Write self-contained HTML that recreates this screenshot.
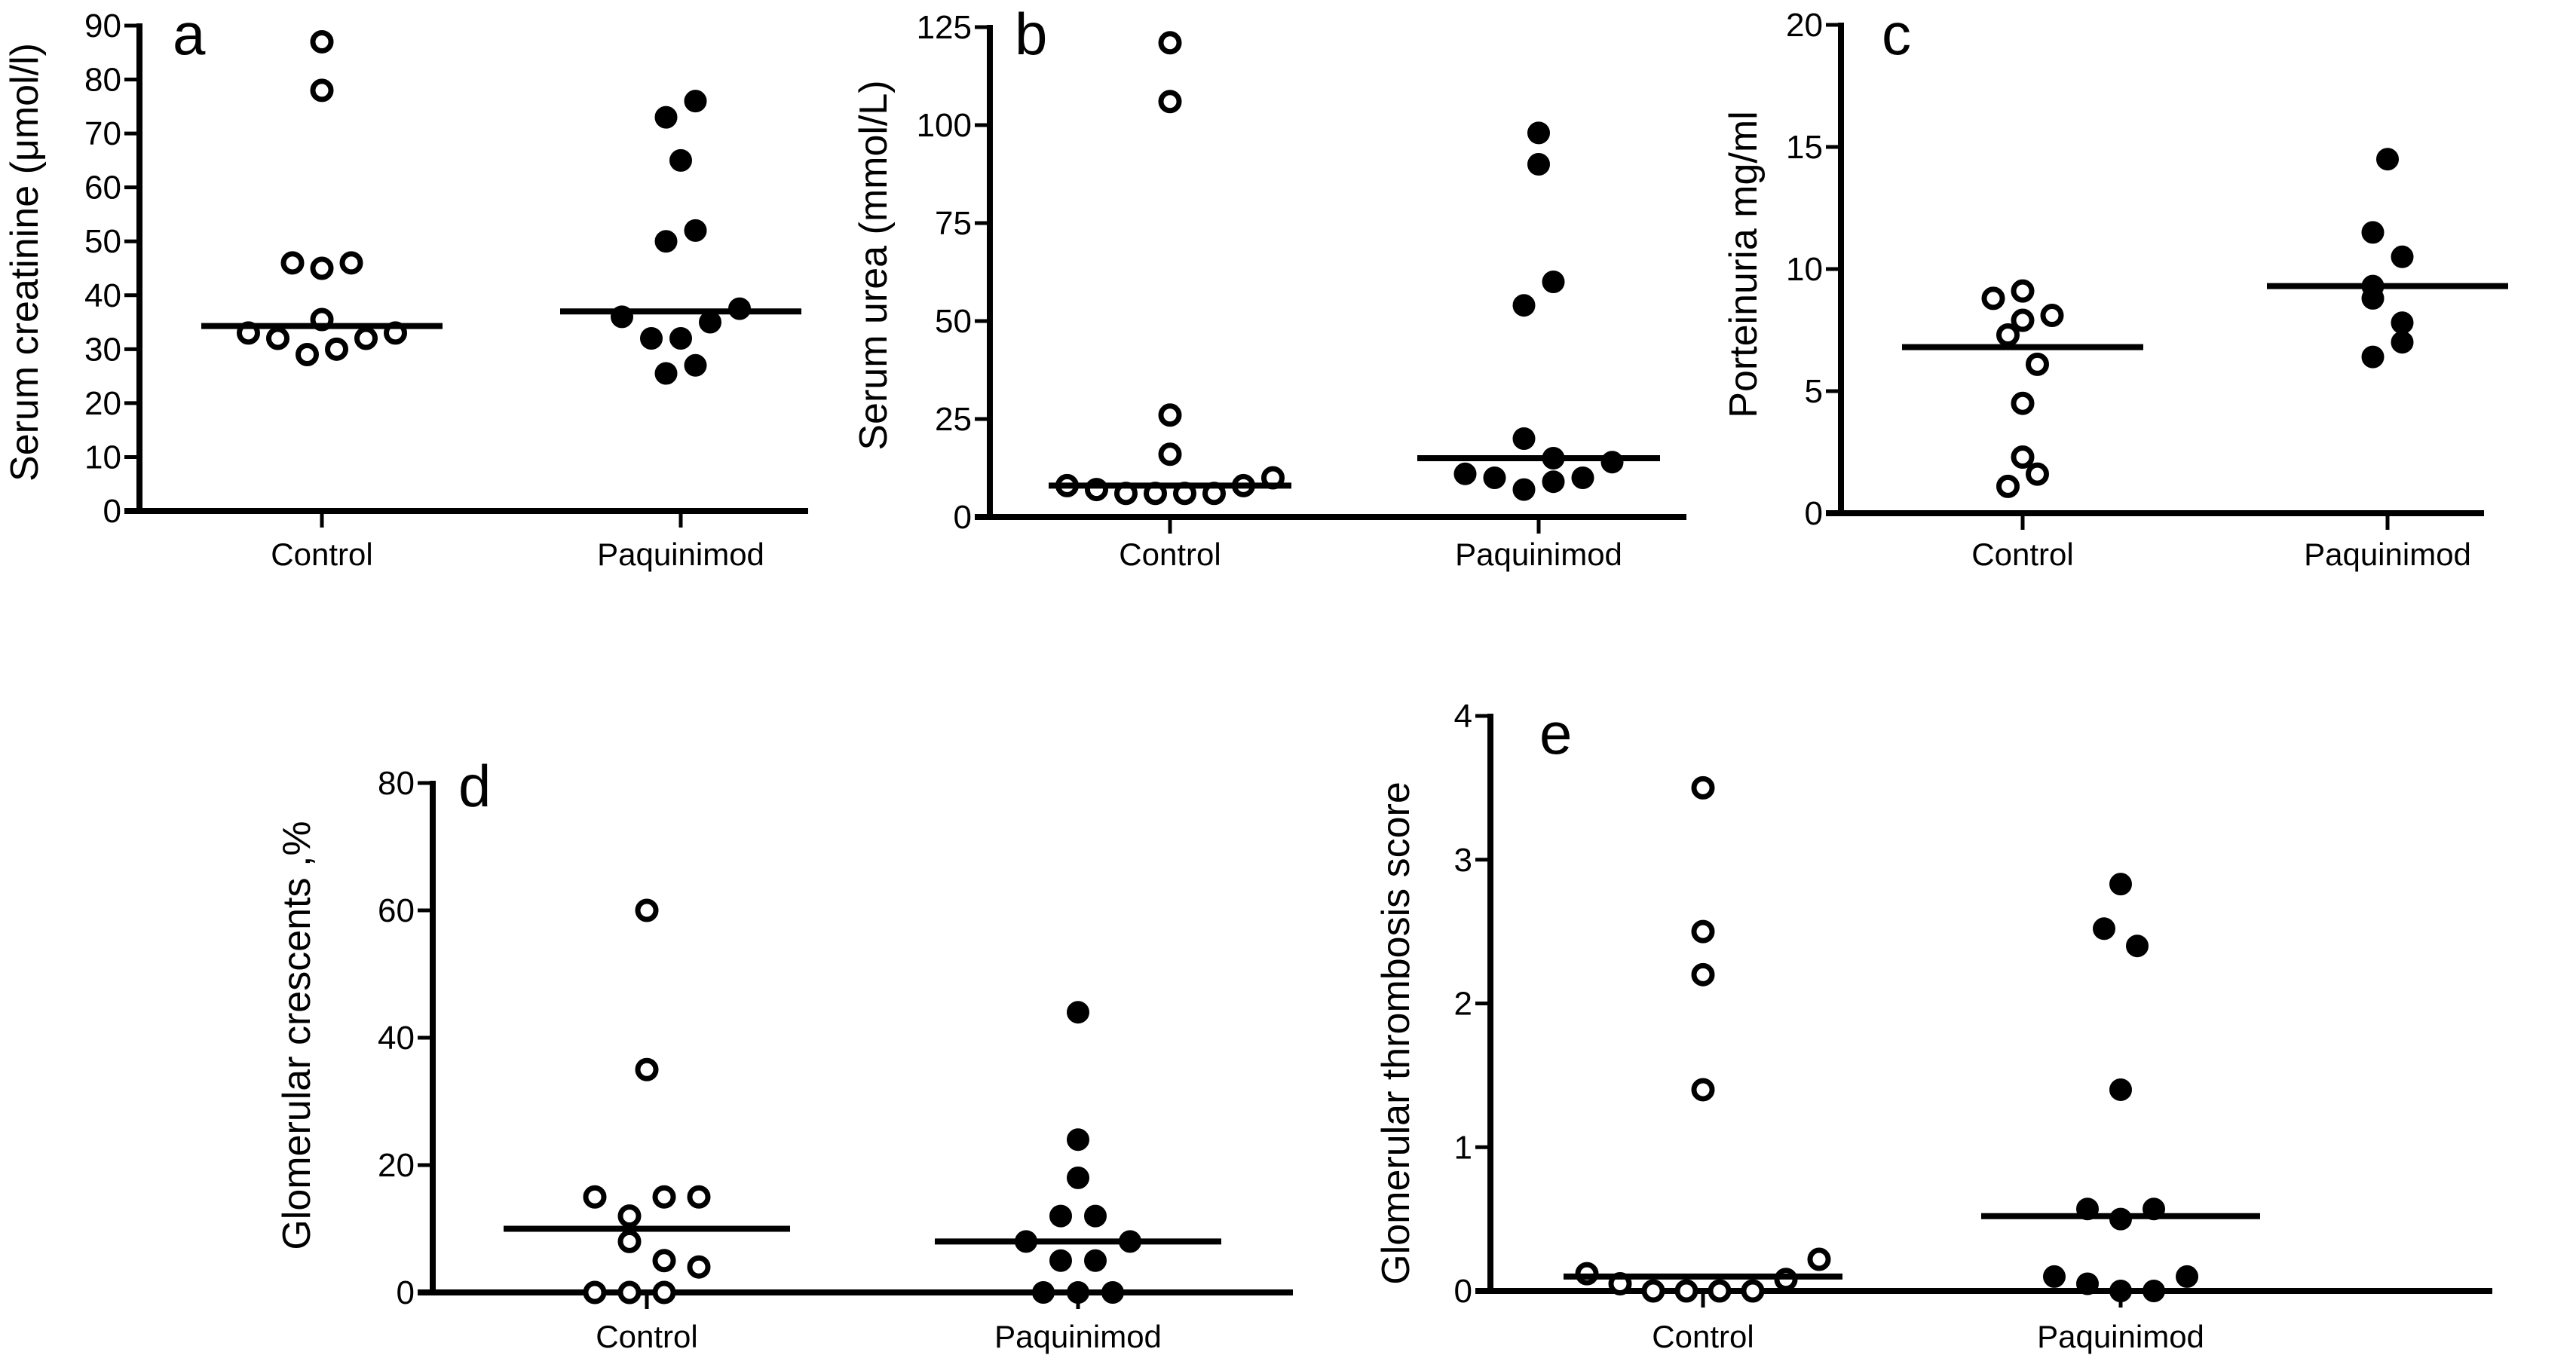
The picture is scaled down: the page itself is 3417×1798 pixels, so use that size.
<!DOCTYPE html>
<html><head><meta charset="utf-8"><style>
html,body{margin:0;padding:0;background:#fff;}
svg{display:block;}
text{font-family:"Liberation Sans",Arial,sans-serif;fill:#000;}
</style></head>
<body>
<svg id="fig" width="3417" height="1798" viewBox="0 0 3417 1798" xmlns="http://www.w3.org/2000/svg"></svg>
<script>
// ---------- data ----------
const categories = ["Control", "Paquinimod"];
const aControl = [87, 78, 46, 45, 46, 35.5, 33, 32, 29, 30, 32, 33];
const aPaq = [76, 73, 65, 50, 52, 36, 35, 37.5, 32, 32, 27, 25.5];
const aMedians = [34.3, 37];
const aTicks = [0, 10, 20, 30, 40, 50, 60, 70, 80, 90];
const aJitC = [0, 0, -1, 0, 1, 0, -2.5, -1.5, -0.5, 0.5, 1.5, 2.5];
const aJitP = [0.5, -0.5, 0, -0.5, 0.5, -2, 1, 2, -1, 0, 0.5, -0.5];

const bControl = [121, 106, 26, 16, 8, 7, 6, 6, 6, 6, 8, 10];
const bPaq = [98, 90, 54, 60, 20, 15, 14, 11, 10, 7, 9, 10];
const bMedians = [8, 15];
const bTicks = [0, 25, 50, 75, 100, 125];
const bJitC = [0, 0, 0, 0, -3.5, -2.5, -1.5, -0.5, 0.5, 1.5, 2.5, 3.5];
const bJitP = [0, 0, -0.5, 0.5, -0.5, 0.5, 2.5, -2.5, -1.5, -0.5, 0.5, 1.5];

const cControl = [8.8, 9.1, 8.1, 7.9, 7.3, 6.1, 4.5, 2.3, 1.6, 1.1];
const cPaq = [14.5, 11.5, 10.5, 9.3, 8.8, 7.8, 7.0, 6.4];
const cMedians = [6.8, 9.3];
const cTicks = [0, 5, 10, 15, 20];
const cJitC = [-1, 0, 1, 0, -0.5, 0.5, 0, 0, 0.5, -0.5];
const cJitP = [0, -0.5, 0.5, -0.5, -0.5, 0.5, 0.5, -0.5];

const dControl = [60, 35, 15, 15, 15, 12, 8, 5, 4, 0, 0, 0];
const dPaq = [44, 24, 18, 12, 12, 8, 8, 5, 5, 0, 0, 0];
const dMedians = [10, 8];
const dTicks = [0, 20, 40, 60, 80];
const dJitC = [0, 0, -1.5, 0.5, 1.5, -0.5, -0.5, 0.5, 1.5, -1.5, -0.5, 0.5];
const dJitP = [0, 0, 0, -0.5, 0.5, -1.5, 1.5, -0.5, 0.5, -1, 0, 1];

const eControl = [3.5, 2.5, 2.2, 1.4, 0.12, 0.05, 0, 0, 0, 0, 0.08, 0.22];
const ePaq = [2.83, 2.52, 2.4, 1.4, 0.57, 0.5, 0.57, 0.1, 0.05, 0, 0, 0.1];
const eMedians = [0.1, 0.52];
const eTicks = [0, 1, 2, 3, 4];
const eJitC = [0, 0, 0, 0, -3.5, -2.5, -1.5, -0.5, 0.5, 1.5, 2.5, 3.5];
const eJitP = [0, -0.5, 0.5, 0, -1, 0, 1, -2, -1, 0, 1, 2];

// ---------- layout ----------
const panels = [
 {id:"a", ax:185, y0:678, yTop:34, xEnd:1072, cx:[427,903], max:90, ticks:aTicks, series:[aControl,aPaq], jit:[aJitC,aJitP], med:aMedians, step:39, half:160, title:"Serum creatinine (\u03BCmol/l)", tx:33, ty:348, lx:229, ly:72, labY:750},
 {id:"b", ax:1313, y0:686, yTop:36, xEnd:2237, cx:[1552,2041], max:125, ticks:bTicks, series:[bControl,bPaq], jit:[bJitC,bJitP], med:bMedians, step:39, half:161, title:"Serum urea (mmol/L)", tx:1159, ty:352, lx:1346, ly:72, labY:750},
 {id:"c", ax:2442, y0:681, yTop:33, xEnd:3295, cx:[2683,3167], max:20, ticks:cTicks, series:[cControl,cPaq], jit:[cJitC,cJitP], med:cMedians, step:39, half:160, title:"Porteinuria mg/ml", tx:2313, ty:351, lx:2496, ly:72, labY:750},
 {id:"d", ax:574, y0:1715, yTop:1039, xEnd:1715, cx:[858,1430], max:80, ticks:dTicks, series:[dControl,dPaq], jit:[dJitC,dJitP], med:dMedians, step:46, half:190, title:"Glomerular crescents ,%", tx:394, ty:1374, lx:608, ly:1070, labY:1788},
 {id:"e", ax:1977, y0:1713, yTop:950, xEnd:3306, cx:[2259,2813], max:4, ticks:eTicks, series:[eControl,ePaq], jit:[eJitC,eJitP], med:eMedians, step:44, half:185, title:"Glomerular thrombosis score", tx:1852, ty:1371, lx:2042, ly:1000, labY:1788}
];

const NS = "http://www.w3.org/2000/svg";
const svg = document.getElementById("fig");
function mk(tag, attrs, parent){
  const el = document.createElementNS(NS, tag);
  for (const k in attrs) el.setAttribute(k, attrs[k]);
  (parent||svg).appendChild(el);
  return el;
}

panels.forEach(p=>{
  const g = mk("g", {});
  
  
  const y = v => p.y0 - (v / p.max) * (p.y0 - p.yTop);

  const ya = mk("line", {x1:p.ax, y1:p.yTop-3, x2:p.ax, y2:p.y0+4, stroke:"#000","stroke-width":8}, g);
  
  
  const xa = mk("line", {x1:p.ax-20, y1:p.y0, x2:p.xEnd, y2:p.y0, stroke:"#000","stroke-width":8}, g);
  
  

  p.ticks.forEach(t=>{
    const ty = y(t);
    const tk = mk("line", {x1:p.ax-20, y1:ty, x2:p.ax, y2:ty, stroke:"#000","stroke-width":5}, g);
    
    
    const tl = mk("text", {x:p.ax-24, y:ty+15, "text-anchor":"end","font-size":44}, g);
    tl.textContent = t;
    
    
  });

  categories.forEach((c,i)=>{
    const tk = mk("line", {x1:p.cx[i], y1:p.y0, x2:p.cx[i], y2:p.y0+22, stroke:"#000","stroke-width":5}, g);
    
    
    const tl = mk("text", {x:p.cx[i], y:p.labY, "text-anchor":"middle","font-size":42}, g);
    tl.textContent = c;
    
    
  });

  const tt = mk("text", {x:p.tx, y:p.ty, "text-anchor":"middle","font-size":52, transform:`rotate(-90 ${p.tx} ${p.ty})`, dy:17}, g);
  tt.textContent = p.title;
  
  

  const pl = mk("text", {x:p.lx, y:p.ly, "font-size":78}, g);
  pl.textContent = p.id;
  
  

  p.series.forEach((arr, si)=>{
    arr.forEach((v, k)=>{
      const px = p.cx[si] + p.jit[si][k] * p.step;
      const c = mk("circle", {cx:px, cy:y(v), r:si===0?12:14, fill:si===0?"#fff":"#000", stroke:"#000","stroke-width":si===0?7:2}, g);
      
      
    });
    const my = y(p.med[si]);
    const ml = mk("line", {x1:p.cx[si]-p.half, y1:my, x2:p.cx[si]+p.half, y2:my, stroke:"#000","stroke-width":8}, g);
    
    
  });
});
</script>
</body></html>
